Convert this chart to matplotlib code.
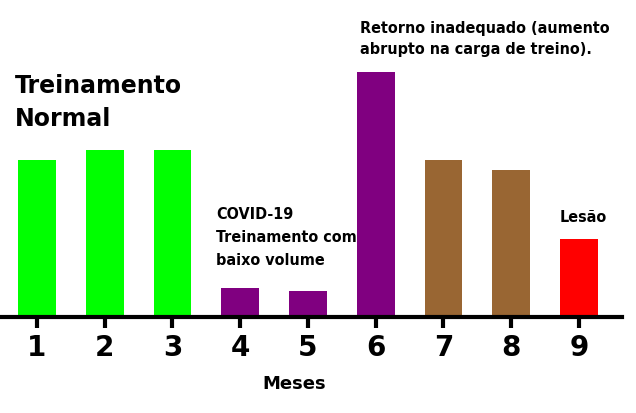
import matplotlib
matplotlib.use("Agg")
import matplotlib.pyplot as plt

months = [1, 2, 3, 4, 5, 6, 7, 8, 9]
tick_labels = ["1", "2", "3", "4", "5", "6", "7", "8", "9"]
load = [157, 167, 167, 29, 26, 245, 157, 147, 78]
bar_colors = ["#00FF00", "#00FF00", "#00FF00", "#800080", "#800080", "#800080",
              "#996633", "#996633", "#FF0000"]

W, H = 636, 413
fig = plt.figure(figsize=(W / 100, H / 100), dpi=100)

ax = fig.add_axes([0, (H - 317) / H, 622 / W, 317 / H])
ax.bar(months, load, width=0.56, color=bar_colors)
ax.set_xlim(0.454, 9.635)
ax.set_ylim(0, 317)

for s in ["top", "right", "left"]:
    ax.spines[s].set_visible(False)
ax.spines["bottom"].set_linewidth(3)
ax.set_yticks([])
ax.set_xticks(months)
ax.set_xticklabels(tick_labels, fontsize=20, fontweight="bold")
ax.tick_params(axis="x", length=8, width=3, pad=4)
ax.set_xlabel("Meses", fontsize=13, fontweight="bold")
ax.xaxis.set_label_coords(294 / 622, -(375 - 317) / 317, transform=ax.transAxes)
ax.xaxis.label.set_va("top")


def ftext(x, y, s, size, **kw):
    fig.text(x / W, 1 - y / H, s, fontsize=size, fontweight="bold",
             family="DejaVu Sans", va="top", ha="left", **kw)


ftext(15, 74, "Treinamento\nNormal", 17, linespacing=1.45)
ftext(216, 207, "COVID-19\nTreinamento com\nbaixo volume", 11.5,
      fontstretch="condensed", linespacing=1.68)
ftext(360, 21, "Retorno inadequado (aumento\nabrupto na carga de treino).", 11.5,
      fontstretch="condensed", linespacing=1.46)
ftext(560, 210, "Lesão", 11.5, fontstretch="condensed")

fig.savefig("out.png", dpi=100, facecolor="white")
